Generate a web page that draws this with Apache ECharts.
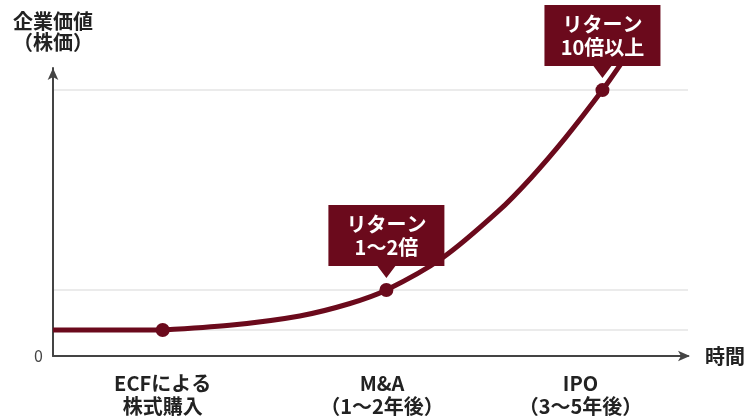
<!DOCTYPE html>
<html>
<head>
<meta charset="utf-8">
<script src="https://cdn.jsdelivr.net/npm/echarts@6/dist/echarts.min.js"></script>
<style>
html,body{margin:0;padding:0;background:#fff;}
#chart{width:748px;height:418px;}
</style>
</head>
<body>
<div id="chart"></div>
<script>
// ---- data ----
var flatX = [0, 1];
var flatY = [1, 1];
var curveX = [1, 1.61, 2.25, 2.70, 3.04, 3.55, 4.06, 4.36, 4.67, 5.01, 5.18];
var curveY = [1, 1.18, 1.54, 2.01, 2.54, 3.77, 5.57, 6.86, 8.38, 10.23, 11.25];
var milestoneX = [1, 3.04, 5.01];
var milestoneY = [1, 2.54, 10.23];
var categoryLabels = ['ECFによる\n株式購入', 'M&A\n（1〜2年後）', 'IPO\n（3〜5年後）'];
var categoryPos = [1.0, 3.0, 4.81];
var gridValues = [1, 2.54, 10.23];
var calloutText = ['リターン\n1〜2倍', 'リターン\n10倍以上'];
var calloutIndex = [1, 2];
var yAxisName = '企業価値\n（株価）';
var xAxisName = '時間';

var RED = '#6b0a1c';
var FONT = '"Noto Sans CJK JP", "Noto Sans", sans-serif';

function zip(a, b) { return a.map(function (v, i) { return [v, b[i]]; }); }

var chart = echarts.init(document.getElementById('chart'), null, { renderer: 'canvas' });
chart.setOption({
  animation: false,
  backgroundColor: '#fff',
  textStyle: { fontFamily: FONT },
  grid: { left: 53, right: 58, top: 68, bottom: 62, containLabel: false },
  xAxis: {
    type: 'value', min: 0, max: 5.79,
    name: xAxisName, nameLocation: 'end', nameGap: 17,
    nameTextStyle: { fontSize: 20, fontWeight: 'bold', color: '#222', fontFamily: FONT, verticalAlign: 'middle' },
    axisLine: { show: true, lineStyle: { color: '#444', width: 2 }, symbol: ['none', 'arrow'], symbolSize: [8, 12], symbolOffset: [0, 2] },
    axisTick: { show: false },
    splitLine: { show: false },
    axisLabel: {
      customValues: categoryPos, margin: 16,
      fontSize: 20, fontWeight: 'bold', lineHeight: 23, color: '#222', fontFamily: FONT,
      formatter: function (v) {
        for (var i = 0; i < categoryPos.length; i++) if (Math.abs(categoryPos[i] - v) < 1e-6) return categoryLabels[i];
        return '';
      }
    }
  },
  yAxis: {
    type: 'value', min: 0, max: 11.08,
    name: yAxisName, nameLocation: 'end', nameGap: 15,
    nameTextStyle: { fontSize: 20, fontWeight: 'bold', lineHeight: 21, color: '#222', fontFamily: FONT, align: 'center' },
    axisLine: { show: true, lineStyle: { color: '#444', width: 2 }, symbol: ['none', 'arrow'], symbolSize: [8, 12] },
    axisTick: { show: false, customValues: gridValues },
    splitLine: { show: true, lineStyle: { color: '#ebebeb', width: 2 } },
    axisLabel: { customValues: [0], margin: 10, fontSize: 16, color: '#444', fontFamily: FONT }
  },
  series: [
    {
      type: 'line', data: zip(flatX, flatY), showSymbol: false, smooth: false,
      lineStyle: { color: RED, width: 5 }, z: 3
    },
    {
      type: 'line', data: zip(curveX, curveY), showSymbol: false, smooth: 0.3,
      lineStyle: { color: RED, width: 5 }, z: 3,
      markPoint: {
        symbol: 'path://M0 0H116V61H67L58 73L49 61H0Z',
        symbolSize: [116, 73],
        symbolOffset: [0, -48.5],
        itemStyle: { color: RED, opacity: 1 },
        label: {
          show: true, position: 'inside', offset: [0, -6],
          color: '#fff', fontSize: 20, fontWeight: 'bold', lineHeight: 23, fontFamily: FONT,
          formatter: '{b}'
        },
        data: calloutIndex.map(function (k, i) {
          return { name: calloutText[i], coord: [milestoneX[k], milestoneY[k]] };
        })
      }
    },
    {
      type: 'scatter', data: zip(milestoneX, milestoneY), symbol: 'circle', symbolSize: 14,
      itemStyle: { color: RED, opacity: 1 }, z: 4
    }
  ]
});
</script>
</body>
</html>
